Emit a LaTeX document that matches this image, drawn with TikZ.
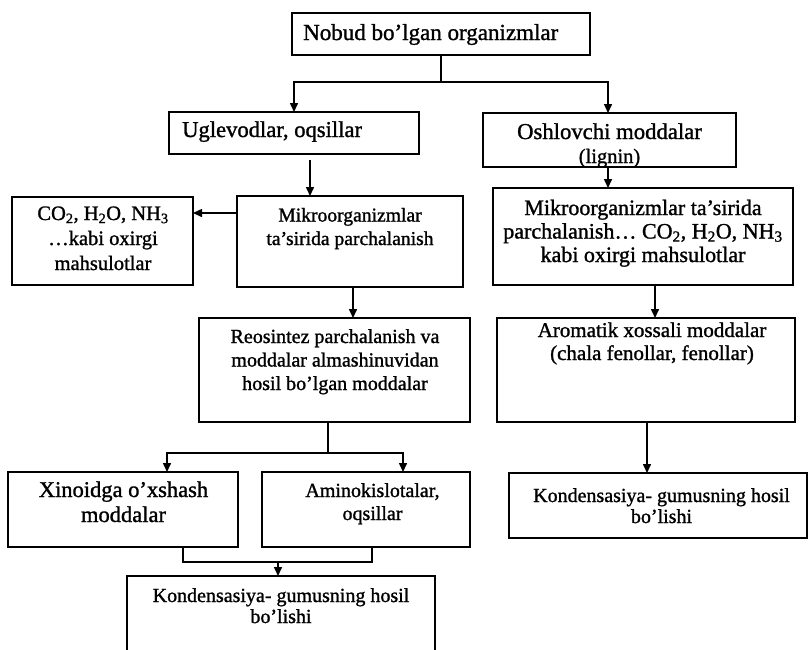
\documentclass[tikz,border=0pt]{standalone}
\usepackage{fontspec}
\setmainfont{Liberation Serif}[FakeBold=1.2]
\usetikzlibrary{arrows.meta}
\newcommand{\fsz}[2]{\fontsize{#1}{#2}\selectfont}
\begin{document}
\begin{tikzpicture}[x=1pt,y=-1pt,
  box/.style={draw, line width=1.5pt, inner sep=0pt, outer sep=0pt, rectangle},
  lbl/.style={inner sep=0pt, align=center, anchor=base},
  arr/.style={line width=1.5pt, -{Triangle[length=9pt,width=8pt]}},
  ln/.style={line width=1.5pt}]
\clip (0,0) rectangle (810,649);
\fill[white] (0,0) rectangle (810,649);

% boxes
\node[box, minimum width=298pt, minimum height=42pt] (top)  at (441,34) {};
\node[box, minimum width=250pt, minimum height=42pt] (ugl)  at (294,133) {};
\node[box, minimum width=253pt, minimum height=54pt] (osh)  at (609.5,140) {};
\node[box, minimum width=226pt, minimum height=91pt] (mikL) at (350,241.5) {};
\node[box, minimum width=181pt, minimum height=88pt] (co2)  at (102.5,241) {};
\node[box, minimum width=300pt, minimum height=97pt] (mikR) at (643,236.5) {};
\node[box, minimum width=271pt, minimum height=104pt] (reo) at (334.5,370) {};
\node[box, minimum width=298pt, minimum height=104pt] (aro) at (646,370) {};
\node[box, minimum width=298pt, minimum height=65pt] (konR) at (658,505.5) {};
\node[box, minimum width=230pt, minimum height=75pt] (xin)  at (123,509.5) {};
\node[box, minimum width=208pt, minimum height=75pt] (ami)  at (366,509.5) {};
\node[box, minimum width=308pt, minimum height=89pt] (konB) at (281,620.5) {};

% texts (anchor base = baseline of last line)
\node[lbl, anchor=base west, font=\fsz{23}{26}] (ttop) at (303,40) {Nobud bo’lgan organizmlar};
\node[lbl, anchor=base west, font=\fsz{22.6}{25}] (tugl) at (182,137) {Uglevodlar, oqsillar};
\node[lbl, font=\fsz{22.7}{24}] (tosh) at (609.5,163) {Oshlovchi moddalar\\{\fsz{20.5}{24}(lignin)}};
\node[lbl, font=\fsz{19.6}{23.5}] (tmikL) at (350,245) {Mikroorganizmlar\\ta’sirida parchalanish};
\node[lbl, font=\fsz{20.5}{25}] (tco2) at (103,270) {CO\textsubscript{2}, H\textsubscript{2}O, NH\textsubscript{3}\\…kabi oxirgi\\mahsulotlar};
\node[lbl, font=\fsz{22}{23.5}] (tmikR) at (643,262) {Mikroorganizmlar ta’sirida\\parchalanish… CO\textsubscript{2}, H\textsubscript{2}O, NH\textsubscript{3}\\kabi oxirgi mahsulotlar};
\node[lbl, font=\fsz{20}{23.5}] (treo) at (335,390) {Reosintez parchalanish va\\moddalar almashinuvidan\\hosil bo’lgan moddalar};
\node[lbl, font=\fsz{21}{23}] (taro) at (652,360) {Aromatik xossali moddalar\\(chala fenollar, fenollar)};
\node[lbl, font=\fsz{20}{21}] (tkonR) at (661.5,523) {Kondensasiya- gumusning hosil\\bo’lishi};
\node[lbl, font=\fsz{22.5}{25}] (txin) at (123.5,522) {Xinoidga o’xshash\\moddalar};
\node[lbl, font=\fsz{20}{23}] (tami) at (372.5,520) {Aminokislotalar,\\oqsillar};
\node[lbl, font=\fsz{20}{21}] (tkonB) at (281,623) {Kondensasiya- gumusning hosil\\bo’lishi};

% connectors
\coordinate (J1) at (441,82);
\draw[ln] (top.south) -- (J1);
\draw[arr] (J1) -| (ugl.north);
\draw[arr] (J1) -| ([xshift=-1.5pt]osh.north);
\draw[arr] ([xshift=16pt,yshift=-6pt]ugl.south) -- ([xshift=16pt]ugl.south |- mikL.north);
\draw[arr] ([yshift=28.5pt]mikL.west) -- ([yshift=28.5pt]mikL.west -| co2.east);
\draw[arr] ([xshift=3pt]mikL.south) -- ([xshift=3pt]mikL.south |- reo.north);
\coordinate (J2) at (328,453);
\draw[ln] ([xshift=-6.5pt]reo.south) -- (J2);
\draw[arr] (J2) -| ([xshift=44pt]xin.north);
\draw[arr] (J2) -| ([xshift=37pt]ami.north);
\coordinate (J3) at (278,562);
\draw[ln] ([xshift=60pt]xin.south) |- (J3) -| ([xshift=6pt]ami.south);
\draw[arr] (J3) -- (J3 |- konB.north);
\draw[arr] ([xshift=-1.5pt]osh.south) -- ([xshift=-1.5pt]osh.south |- mikR.north);
\draw[arr] ([xshift=12pt]mikR.south) -- ([xshift=12pt]mikR.south |- aro.north);
\draw[arr] ([xshift=1pt]aro.south) -- ([xshift=1pt]aro.south |- konR.north);
\end{tikzpicture}
\end{document}
